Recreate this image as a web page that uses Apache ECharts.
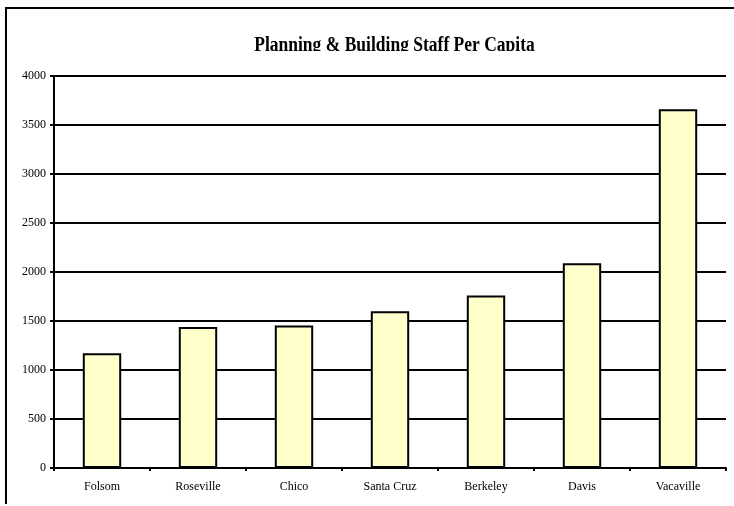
<!DOCTYPE html>
<html>
<head>
<meta charset="utf-8">
<script src="https://cdn.jsdelivr.net/npm/echarts@6/dist/echarts.min.js"></script>
<style>html,body{margin:0;padding:0;background:#fff}#c{width:734px;height:506px}</style>
</head>
<body>
<div id="c"></div>
<script>
var titleText = 'Planning & Building Staff Per Capita';
var categories = ['Folsom', 'Roseville', 'Chico', 'Santa Cruz', 'Berkeley', 'Davis', 'Vacaville'];
var values = [1170, 1438, 1455, 1600, 1760, 2090, 3660];
var yMin = 0, yMax = 4000, yStep = 500;

var chart = echarts.init(document.getElementById('c'), null, {renderer: 'canvas'});
var font = 'Liberation Serif, Times New Roman, serif';
chart.setOption({
  animation: false,
  backgroundColor: '#fff',
  grid: {left: 54, right: 8, top: 76, bottom: 38},
  xAxis: {
    type: 'category',
    data: categories,
    axisLine: {lineStyle: {color: '#000', width: 2}},
    axisTick: {show: true, length: 3, lineStyle: {color: '#000', width: 2}},
    axisLabel: {color: '#000', fontFamily: font, fontSize: 12, margin: 13}
  },
  yAxis: {
    type: 'value',
    min: yMin, max: yMax, interval: yStep,
    axisLine: {show: true, lineStyle: {color: '#000', width: 2}},
    axisTick: {show: true, length: 4, lineStyle: {color: '#000', width: 2}},
    axisLabel: {color: '#000', fontFamily: font, fontSize: 12, margin: 8,
      formatter: function (v) { return String(v); }},
    splitLine: {lineStyle: {color: '#000', width: 2}}
  },
  series: [{
    type: 'bar',
    data: values,
    barWidth: '40%',
    itemStyle: {color: '#FFFFCC', borderColor: '#000', borderWidth: 2}
  }],
  graphic: [
    {type: 'text', z: 90, x: 394.5, y: 56, scaleY: 1.15,
      style: {text: titleText, font: 'bold 17.5px Liberation Serif', fill: '#000',
        textAlign: 'center', textVerticalAlign: 'bottom'}},
    {type: 'rect', z: 100, shape: {x: 240, y: 51, width: 320, height: 14}, style: {fill: '#fff'}},
    {type: 'polyline', z: 100, shape: {points: [[6, 504], [6, 8], [740, 8]]}, style: {stroke: '#000', lineWidth: 2, fill: null}}
  ]
});
</script>
</body>
</html>
